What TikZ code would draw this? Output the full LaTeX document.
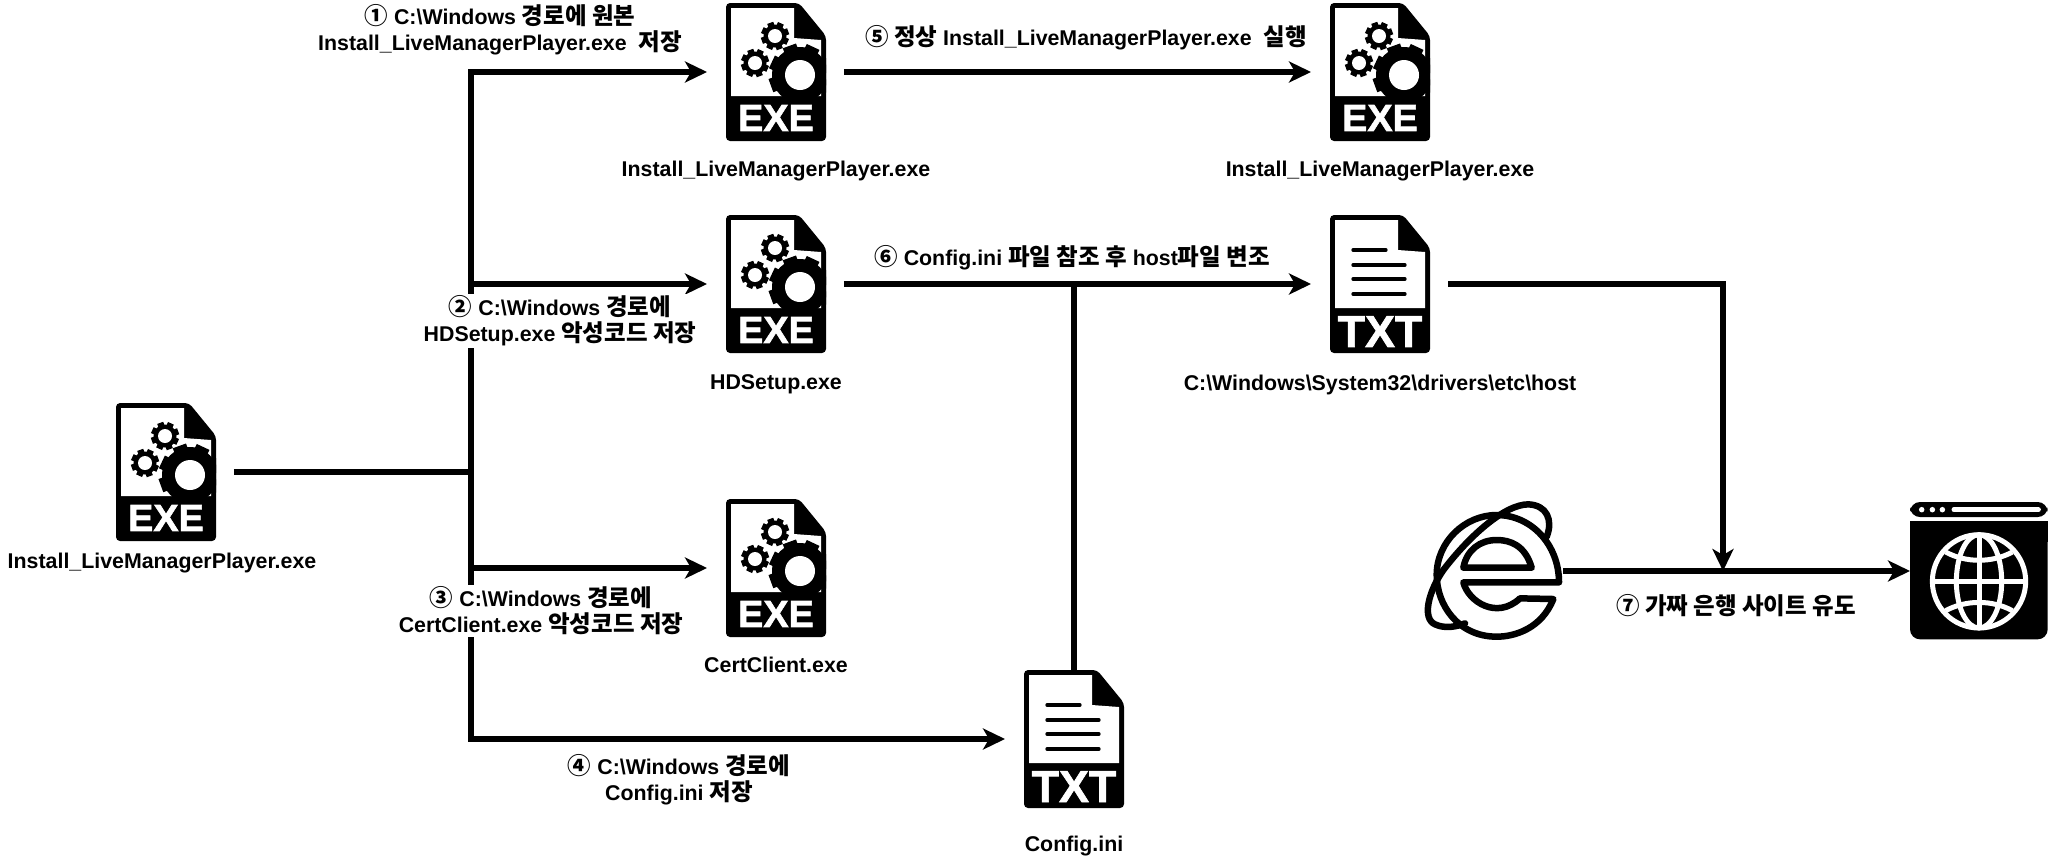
\documentclass[tikz,border=0pt]{standalone}
\usepackage{fontspec}
\setmainfont{Liberation Sans}
\newfontfamily\krfont[Scale=1.1]{Noto Sans CJK KR}
\newfontfamily\iconfont[BoldFeatures={FakeBold=1.6}]{Liberation Sans}
\usepackage{tikz}
\usetikzlibrary{arrows.meta,positioning,calc,backgrounds}
\newcommand{\kr}[1]{{\krfont #1}}
\newcommand{\bs}{\textbackslash}
% gear at local position: x, y, body radius, tooth radius, hole radius, tooth half width
\newcommand{\gearglyph}[6]{%
  \fill[black] (#1,#2) circle[radius=#3];
  \foreach \a in {0,45,...,315}
    \fill[black, shift={(#1,#2)}, rotate=\a+20] (-#6,0) rectangle (#6,#4);
  \fill[white] (#1,#2) circle[radius=#5];}
\newcommand{\docglyph}{%
  \fill[black, rounded corners=.08cm] (0,0) -- (73,0) -- (100,33) -- (100,138) -- (0,138) -- cycle;
  \fill[white] (5,5) -- (68,5) -- (68,35) -- (95,37) -- (95,93) -- (5,93) -- cycle;}
\newcommand{\exeglyph}[1]{%
  \begin{scope}[shift={(#1.north west)}]
    \docglyph
    \clip (0,0) rectangle (100,138);
    \gearglyph{74}{72}{28}{31}{15}{7}
    \gearglyph{49}{33}{11.5}{14}{7}{3.2}
    \gearglyph{29}{60}{11.5}{14}{7}{3.2}
  \end{scope}}
\newcommand{\txtglyph}[1]{%
  \begin{scope}[shift={(#1.north west)}]
    \docglyph
    \draw[black, line width=.066cm, line cap=round] (23,35) -- (56,35);
    \foreach \y in {50,64,79}
      \draw[black, line width=.066cm, line cap=round] (23,\y) -- (75,\y);
  \end{scope}}
\newcommand{\ieglyph}[1]{%
  \begin{scope}[shift={(#1.north west)}, x=.00667cm, y=-.00667cm,
    line width=.13cm, line join=round, line cap=round]
    \draw (432,262) -- (145,262) .. controls (160,320) and (245,375) .. (315,310) -- (415,312)
      .. controls (380,400) and (300,425) .. (245,425)
      .. controls (130,425) and (65,330) .. (65,240)
      .. controls (65,140) and (150,60) .. (245,60)
      .. controls (350,60) and (432,150) .. (432,262) -- cycle;
    \draw (145,218) -- (350,218) .. controls (330,150) and (285,135) .. (245,135)
      .. controls (195,135) and (155,165) .. (145,218) -- cycle;
    \draw (395,125) .. controls (415,75) and (395,30) .. (340,28)
      .. controls (270,28) and (165,120) .. (85,225)
      .. controls (40,290) and (20,370) .. (60,388)
      .. controls (90,402) and (125,395) .. (150,385);
  \end{scope}}
\newcommand{\webglyph}[1]{%
  \begin{scope}[shift={(#1.north west)}, x=.00667cm, y=-.00667cm]
    \fill[black, rounded corners=.2cm] (0,0) rectangle (413,45);
    \fill[black, rounded corners=.2cm] (0,58) rectangle (413,412);
    \fill[black] (0,58) rectangle (413,120);
    \foreach \x in {35,67,97}
      \fill[white] (\x,23) circle[radius=.055cm];
    \draw[white, line width=.1cm, line cap=round] (132,23) -- (385,23);
    \begin{scope}[shift={(207,238)}, white, line width=.1cm]
      \draw (0,0) circle[radius=140];
      \draw (0,0) ellipse[x radius=68, y radius=140];
      \draw (0,-140) -- (0,140);
      \draw (-140,0) -- (140,0);
      \draw (-100,-88) .. controls (-40,-55) and (40,-55) .. (100,-88);
      \draw (-100,88) .. controls (-40,55) and (40,55) .. (100,88);
    \end{scope}
  \end{scope}}

\begin{document}
\begin{tikzpicture}[x=.02cm, y=-.02cm,
  >={Stealth[length=.44cm,width=.42cm,inset=.12cm]},
  exeicon/.style={minimum width=2cm, inner sep=0pt, outer sep=0pt, align=center,
    text width=2cm, text=white, text height=2.56cm, text depth=.2cm,
    font=\iconfont\fontsize{21.5}{24}\selectfont\bfseries},
  txticon/.style={minimum width=2cm, inner sep=0pt, outer sep=0pt, align=center,
    text width=2cm, text=white, text height=2.64cm, text depth=.12cm,
    font=\iconfont\fontsize{25.5}{28}\selectfont\bfseries},
  glyphbox/.style={inner sep=0pt, outer sep=0pt},
  filename/.style={inner sep=0pt, font=\fontsize{12.15}{14.8}\selectfont\bfseries, below=.4cm of #1},
  note/.style={inner sep=1pt, align=center, font=\fontsize{12.15}{14.8}\selectfont\bfseries},
  line/.style={line width=.115cm},
  arr/.style={->, line width=.115cm},
  gapin/.style={shorten >=.38cm},
  gapout/.style={shorten <=.36cm}]

\useasboundingbox (0,0) rectangle (2048,859);

% Icons
\node[exeicon] (install) at (166,472) {EXE};
\node[exeicon] (copy) at (776,72) {EXE};
\node[exeicon] (normal) at (1380,72) {EXE};
\node[exeicon] (setup) at (776,284) {EXE};
\node[exeicon] (cert) at (776,568) {EXE};
\node[txticon] (config) at (1074,739) {TXT};
\node[txticon] (host) at (1380,284) {TXT};
\node[glyphbox, minimum width=2.96cm, minimum height=3.04cm] (ie) at (1489,571) {};
\node[glyphbox, minimum width=2.76cm, minimum height=2.76cm] (web) at (1979,571) {};

% Icon drawings, behind the icon texts
\begin{scope}[on background layer]
  \foreach \n in {install,copy,normal,setup,cert} {\exeglyph{\n}}
  \foreach \n in {config,host} {\txtglyph{\n}}
  \ieglyph{ie}
  \webglyph{web}
\end{scope}

% File names
\node[filename=install, below=.24cm of install, xshift=-.08cm] (installname) {Install\_LiveManagerPlayer.exe};
\node[filename=copy] (copyname) {Install\_LiveManagerPlayer.exe};
\node[filename=normal] (normalname) {Install\_LiveManagerPlayer.exe};
\node[filename=setup, below=.43cm of setup] (setupname) {HDSetup.exe};
\node[filename=cert] (certname) {CertClient.exe};
\node[filename=config, below=.56cm of config] (configname) {Config.ini};
\node[filename=host, below=.43cm of host] (hostname) {C:\bs Windows\bs System32\bs drivers\bs etc\bs host};

% Arrows
\coordinate (split) at (471,472);
\coordinate (tapie) at (1723,571);
\draw[line, gapout] (install.east) -- (split);
\draw[arr, gapin] (split) |- (copy.west);
\draw[arr, gapin] (split) |- (setup.west);
\draw[arr, gapin] (split) |- (cert.west);
\draw[arr, gapin] (split) |- (config.west);
\draw[arr, gapin, gapout] (copy.east) -- (normal.west);
\draw[arr, gapin, gapout] (setup.east) -- (host.west);
\draw[line] (config.north) -- (config.north |- setup);
\draw[arr, gapout] (host.east) -| (tapie);
\draw[arr] (ie.east) -- (web.west);

% Step labels
\node[note] (note1) at (500,30) {\kr{①} C:\bs Windows \kr{경로에 원본}\\Install\_LiveManagerPlayer.exe~ \kr{저장}};
\node[note, fill=white] (note2) at (560,321) {\kr{②} C:\bs Windows \kr{경로에}\\HDSetup.exe \kr{악성코드 저장}};
\node[note, fill=white] (note3) at (541,611) {\kr{③} C:\bs Windows \kr{경로에}\\CertClient.exe \kr{악성코드 저장}};
\node[note] (note4) at (679,780) {\kr{④} C:\bs Windows \kr{경로에}\\Config.ini \kr{저장}};
\node[note] (note5) at (1086,38) {\kr{⑤ 정상} Install\_LiveManagerPlayer.exe~ \kr{실행}};
\node[note] (note6) at (1072,258) {\kr{⑥} Config.ini \kr{파일 참조 후} host\kr{파일 변조}};
\node[note] (note7) at (1736,606) {\kr{⑦ 가짜 은행 사이트 유도}};

\end{tikzpicture}
\end{document}
